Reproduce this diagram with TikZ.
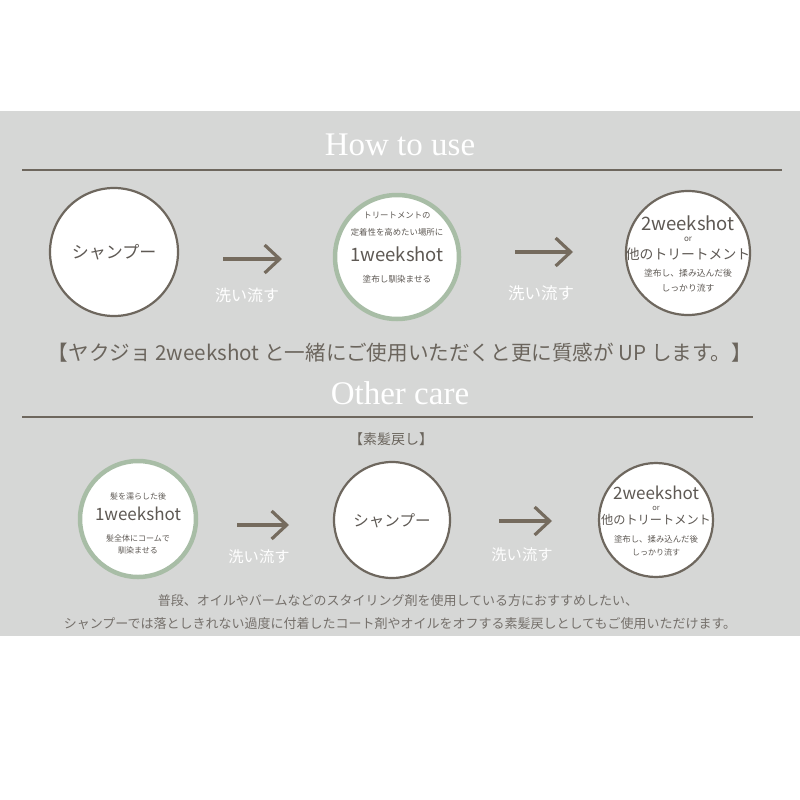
\documentclass[tikz,border=0pt]{standalone}
\usepackage{fontspec}
\setmainfont{Liberation Serif}
\newfontfamily\jp{Noto Sans CJK JP}
\usetikzlibrary{arrows.meta}
\definecolor{bg}{HTML}{D6D7D6}
\definecolor{brownline}{HTML}{6E675E}
\definecolor{arrowc}{HTML}{756B5E}
\definecolor{greenc}{HTML}{A8BDA6}
\definecolor{txt}{HTML}{5E5954}
\definecolor{midtxt}{HTML}{6B655D}
\definecolor{bottxt}{HTML}{75706B}
\newcommand{\fs}[1]{\fontsize{#1}{#1}\selectfont}
\tikzset{
  head/.style={text=white, inner sep=0pt, font=\fs{33}},
  rule/.style={draw=brownline, line width=2.3pt},
  circb/.style={circle, fill=white, draw=brownline, line width=2.2pt, inner sep=0pt},
  circg/.style={circle, fill=white, draw=greenc, line width=4.5pt, inner sep=0pt},
  t/.style={inner sep=0pt, text=txt, font=\jp},
  lab/.style={inner sep=0pt, text=white, font=\jp\fs{16}},
  arr/.style={draw=arrowc, line width=3.4pt, -{Straight Barb[length=15pt,width=28pt,line width=3.2pt]}},
}
\begin{document}
\begin{tikzpicture}[x=1pt,y=-1pt]
\useasboundingbox (0,0) rectangle (800,800);
\fill[white] (0,0) rectangle (800,800);
\fill[bg] (0,111) rectangle (800,636);

% headings and rules
\node[head] (h1) at (400,145) {How to use};
\draw[rule] (22,170) -- (782,170);

% top row circles
\node[circb, minimum size=128pt] (c1) at (114,252) {};
\node[t, font=\jp\fs{17}] (c1t) at (114,252) {シャンプー};

\node[circg, minimum size=124pt] (c2) at (397,257) {};
\node[t, font=\jp\fs{8.4}] (c2a) at (397,215) {トリートメントの};
\node[t, font=\jp\fs{8.4}] (c2b) at (397,232) {定着性を高めたい場所に};
\node[t, font=\jp\fs{18.5}] (c2c) at (397,254) {1weekshot};
\node[t, font=\jp\fs{8.6}] (c2d) at (397,279) {塗布し馴染ませる};

\node[circb, minimum size=124pt] (c3) at (688,253) {};
\node[t, font=\jp\fs{18.5}] (c3a) at (688,223) {2weekshot};
\node[t, font=\jp\fs{8}] (c3b) at (688,239) {or};
\node[t, font=\jp\fs{13.8}] (c3c) at (688,254) {他のトリートメント};
\node[t, font=\jp\fs{8.8}] (c3d) at (688,273) {塗布し、揉み込んだ後};
\node[t, font=\jp\fs{8.8}] (c3e) at (688,288) {しっかり流す};

% top arrows
\coordinate (a1s) at (223,259); \coordinate (a1e) at (282,259);
\draw[arr] (a1s) -- (a1e);
\node[lab] (l1) at (247,295) {洗い流す};
\coordinate (a2s) at (515,252); \coordinate (a2e) at (573,252);
\draw[arr] (a2s) -- (a2e);
\node[lab, font=\jp\fs{16.5}] (l2) at (541,293) {洗い流す};

% middle text
\node[inner sep=0pt, text=midtxt, font=\jp\fs{20.6}] (mid) at (400,353) {【ヤクジョ 2weekshot と一緒にご使用いただくと更に質感が UP します。】};

\node[head] (h2) at (400,393) {Other care};
\draw[rule] (22,417) -- (753,417);
\node[inner sep=0pt, text=midtxt, font=\jp\fs{14}] (sub) at (391,439) {【素髪戻し】};

% bottom row circles
\node[circg, minimum size=116pt] (c4) at (138,519) {};
\node[t, font=\jp\fs{8}] (c4a) at (138,496) {髪を濡らした後};
\node[t, font=\jp\fs{17}] (c4b) at (138,514) {1weekshot};
\node[t, font=\jp\fs{8}] (c4c) at (138,538) {髪全体にコームで};
\node[t, font=\jp\fs{8}] (c4d) at (138,550) {馴染ませる};

\node[circb, minimum size=116pt] (c5) at (392,520) {};
\node[t, font=\jp\fs{15.5}] (c5t) at (392,521) {シャンプー};

\node[circb, minimum size=114pt] (c6) at (656,520) {};
\node[t, font=\jp\fs{17}] (c6a) at (656,493) {2weekshot};
\node[t, font=\jp\fs{7.5}] (c6b) at (656,508) {or};
\node[t, font=\jp\fs{12.2}] (c6c) at (656,520) {他のトリートメント};
\node[t, font=\jp\fs{8.4}] (c6d) at (656,539) {塗布し、揉み込んだ後};
\node[t, font=\jp\fs{8}] (c6e) at (656,552) {しっかり流す};

% bottom arrows
\coordinate (a3s) at (237,525); \coordinate (a3e) at (289,525);
\draw[arr] (a3s) -- (a3e);
\node[lab, font=\jp\fs{15.3}] (l3) at (259,557) {洗い流す};
\coordinate (a4s) at (499,521); \coordinate (a4e) at (552,521);
\draw[arr] (a4s) -- (a4e);
\node[lab, font=\jp\fs{15.3}] (l4) at (522,555) {洗い流す};

% bottom text
\node[inner sep=0pt, text=bottxt, font=\jp\fs{13}] (b1) at (398,601) {普段、オイルやバームなどのスタイリング剤を使用している方におすすめしたい、};
\node[inner sep=0pt, text=bottxt, font=\jp\fs{13}] (b2) at (400,624) {シャンプーでは落としきれない過度に付着したコート剤やオイルをオフする素髪戻しとしてもご使用いただけます。};
\end{tikzpicture}
\end{document}
